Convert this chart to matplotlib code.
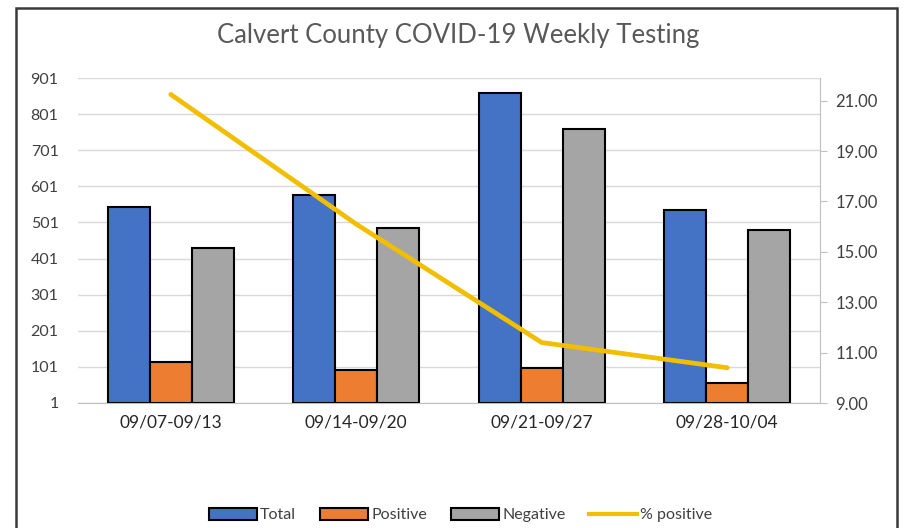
import matplotlib
matplotlib.use("Agg")
import matplotlib.pyplot as plt
import numpy as np
from matplotlib.patches import Rectangle
from matplotlib.lines import Line2D

categories = ["09/07-09/13", "09/14-09/20", "09/21-09/27", "09/28-10/04"]
total = [544, 577, 860, 536]
positive = [115, 92, 99, 56]
negative = [429, 485, 761, 480]
pct_positive = [21.25, 16.1, 11.4, 10.4]

left_ticks = [1, 101, 201, 301, 401, 501, 601, 701, 801, 901]
right_ticks = [9, 11, 13, 15, 17, 19, 21]

plt.rcParams['font.family'] = ['Lato', 'DejaVu Sans']

fig = plt.figure(figsize=(9.07, 5.28), dpi=100)
# outer frame
fig.patches.append(Rectangle((16/907, -0.1), (897-16)/907, 1 - 8/528 + 0.1,
                             transform=fig.transFigure, fill=False,
                             edgecolor='#3a3a3a', linewidth=1.8, zorder=0))

ax = fig.add_axes([78/907, 1-403/528, (820-78)/907, (403-78)/528])
x = np.arange(len(categories))
w = 0.2265
cols = ['#4472C4', '#ED7D31', '#A5A5A5']
base = left_ticks[0]
ax.bar(x - w, np.array(total) - base, w, bottom=base, color=cols[0], edgecolor='black', linewidth=1.5, zorder=3)
ax.bar(x, np.array(positive) - base, w, bottom=base, color=cols[1], edgecolor='black', linewidth=1.5, zorder=3)
ax.bar(x + w, np.array(negative) - base, w, bottom=base, color=cols[2], edgecolor='black', linewidth=1.5, zorder=3)

ax.set_xlim(-0.5, 3.5)
ax.set_ylim(1, 901)
ax.set_yticks(left_ticks)
ax.set_yticklabels([str(t) for t in left_ticks])
ax.set_xticks(x)
ax.set_xticklabels(categories)
ax.grid(axis='y', color='#d9d9d9', linewidth=1, zorder=0)
ax.set_axisbelow(True)
for s in ['top', 'right', 'left']:
    ax.spines[s].set_visible(False)
ax.spines['bottom'].set_color('#bfbfbf')
ax.tick_params(axis='y', length=0, pad=14, labelsize=11.5, labelcolor='#404040')
ax.tick_params(axis='x', length=0, pad=8, labelsize=12.5, labelcolor='#262626')

ax2 = ax.twinx()
ax2.plot(x, pct_positive, color='#F2BE00', linewidth=3.4, solid_capstyle='round', zorder=5)
ax2.set_ylim(9, 21.9)
ax2.set_yticks(right_ticks)
ax2.set_yticklabels([f"{t:.2f}" for t in right_ticks])
for s in ['top', 'left', 'bottom']:
    ax2.spines[s].set_visible(False)
ax2.spines['right'].set_color('#bfbfbf')
ax2.tick_params(axis='y', length=5, color='#bfbfbf', pad=6, labelsize=12, labelcolor='#404040')

fig.text(0.505, 1-35/528, "Calvert County COVID-19 Weekly Testing", ha='center', va='center',
         fontsize=18.5, color='#595959')

handles = [Rectangle((0, 0), 1, 1, facecolor=c, edgecolor='black', linewidth=1.5) for c in cols]
handles.append(Line2D([0], [0], color='#F2BE00', linewidth=3))
leg = fig.legend(handles, ["Total", "Positive", "Negative", "% positive"], loc='center',
                 bbox_to_anchor=(0.508, 1-515/528), ncol=4, frameon=False, fontsize=11.5,
                 handlelength=3.0, handleheight=0.8, handletextpad=0.2, columnspacing=1.5)
for t in leg.get_texts():
    t.set_color('#404040')

fig.savefig("out.png", dpi=100)
